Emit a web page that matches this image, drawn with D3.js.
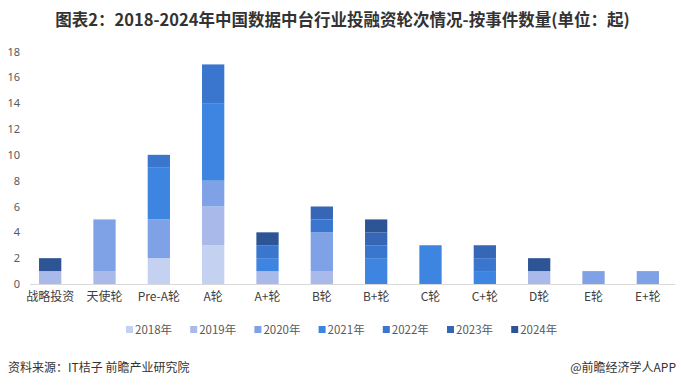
<!DOCTYPE html>
<html>
<head>
<meta charset="utf-8">
<script src="https://cdn.jsdelivr.net/npm/d3@7"></script>
<style>
    body { margin: 0; background: #fff; }
    svg text { font-family: "Noto Sans CJK SC", "Noto Sans", sans-serif; }
</style>
</head>
<body>
<svg id="chart"></svg>
<script>
// categories and yearly counts
const rounds = ["战略投资", "天使轮", "Pre-A轮", "A轮", "A+轮", "B轮", "B+轮", "C轮", "C+轮", "D轮", "E轮", "E+轮"];
const years = ["2018年", "2019年", "2020年", "2021年", "2022年", "2023年", "2024年"];
const v2018 = [0, 0, 2, 3, 0, 0, 0, 0, 0, 0, 0, 0];
const v2019 = [1, 1, 0, 3, 1, 1, 0, 0, 0, 1, 0, 0];
const v2020 = [0, 4, 3, 2, 0, 3, 0, 0, 0, 0, 1, 1];
const v2021 = [0, 0, 4, 6, 1, 0, 2, 3, 1, 0, 0, 0];
const v2022 = [0, 0, 1, 3, 1, 1, 1, 0, 1, 0, 0, 0];
const v2023 = [0, 0, 0, 0, 0, 1, 1, 0, 1, 0, 0, 0];
const v2024 = [1, 0, 0, 0, 1, 0, 1, 0, 0, 1, 0, 0];
const yTicks = [0, 2, 4, 6, 8, 10, 12, 14, 16, 18];

const colors = ["#c5d1f1", "#a8b9ea", "#7fa1e5", "#3d85e0", "#3a76cd", "#3567b6", "#2d5596"];

const W = 681, H = 388;
const svg = d3.select("#chart").attr("width", W).attr("height", H);

// build table for stacking
const series = [v2018, v2019, v2020, v2021, v2022, v2023, v2024];
const table = rounds.map((r, i) => {
    const row = { round: r };
    years.forEach((y, j) => row[y] = series[j][i]);
    return row;
});
const stacked = d3.stack().keys(years)(table);

const x = d3.scaleBand().domain(rounds).range([23, 675]).paddingInner(0.59).paddingOuter(0.295);
const y = d3.scaleLinear().domain([0, 18]).range([284, 51.5]);

// title
svg.append("text")
    .attr("x", W / 2 + 2).attr("y", 26)
    .attr("text-anchor", "middle")
    .style("font-size", "16.5px").style("font-weight", "bold")
    .style("fill", "#333")
    .text("图表2：2018-2024年中国数据中台行业投融资轮次情况-按事件数量(单位：起)");

// bars
svg.append("g").selectAll("g")
    .data(stacked)
    .join("g")
    .attr("fill", (d, i) => colors[i])
    .selectAll("rect")
    .data(d => d.filter(s => s[1] > s[0]))
    .join("rect")
    .attr("x", d => x(d.data.round))
    .attr("y", d => y(d[1]))
    .attr("width", x.bandwidth())
    .attr("height", d => y(d[0]) - y(d[1]));

// y axis labels
const yAxis = svg.append("g")
    .attr("transform", "translate(20,0)")
    .call(d3.axisLeft(y).tickValues(yTicks).tickSize(0).tickPadding(0));
yAxis.select(".domain").remove();
yAxis.selectAll("text").style("font-size", "11px").style("fill", "#595959")
    .style("font-family", "'Noto Sans', sans-serif");

// x axis
const xAxis = svg.append("g")
    .attr("transform", "translate(0,284.5)")
    .call(d3.axisBottom(x).tickSize(0).tickPadding(8));
xAxis.select(".domain").attr("stroke", "#d9d9d9").attr("d", "M30,0H675");
xAxis.selectAll("text").style("font-size", "12px").style("fill", "#404040");

// legend
const legend = svg.append("g").selectAll("g")
    .data(years)
    .join("g")
    .attr("transform", (d, i) => `translate(${130 + i * 64.2},330)`);
legend.append("rect")
    .attr("x", -4).attr("y", -4).attr("width", 7).attr("height", 7)
    .attr("fill", (d, i) => colors[i]);
legend.append("text")
    .attr("x", 5).attr("y", 4)
    .style("font-size", "11.5px").style("fill", "#595959")
    .text(d => d);

// footer
svg.append("text")
    .attr("x", 8).attr("y", 372)
    .style("font-size", "12px").style("fill", "#333")
    .text("资料来源：IT桔子 前瞻产业研究院");
svg.append("text")
    .attr("x", 676).attr("y", 372)
    .attr("text-anchor", "end")
    .style("font-size", "12px").style("fill", "#333")
    .text("@前瞻经济学人APP");
</script>
</body>
</html>
